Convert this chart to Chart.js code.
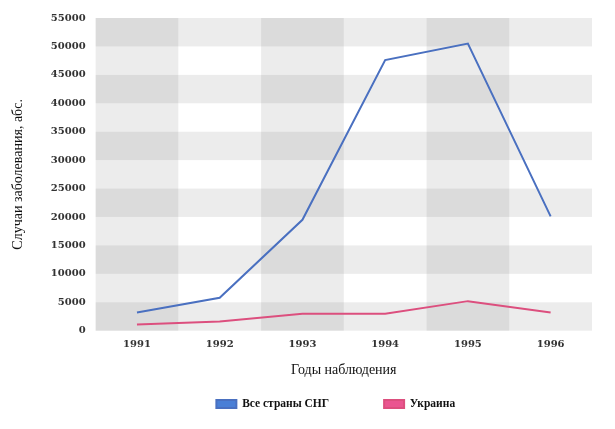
<!DOCTYPE html>
<html>
<head>
<meta charset="utf-8">
<script src="https://cdn.jsdelivr.net/npm/chart.js@4/dist/chart.umd.min.js"></script>
<style>
html,body{margin:0;padding:0;background:#fff;}
#wrap{width:615px;height:429px;}
</style>
</head>
<body>
<div id="wrap"><canvas id="c" width="615" height="429"></canvas></div>
<script>
const years = ["1991","1992","1993","1994","1995","1996"];
const allCIS = [3200, 5800, 19500, 47600, 50500, 20100];
const ukraine = [1100, 1600, 3000, 3000, 5200, 3200];
const seriesNames = ["Все страны СНГ", "Украина"];
const yTitle = "Случаи заболевания, абс.";
const xTitle = "Годы наблюдения";

const bands = {
  id: 'bands',
  beforeDatasetsDraw(chart) {
    const {ctx, chartArea: a, scales: {x, y}} = chart;
    ctx.save();
    ctx.fillStyle = 'rgba(0,0,0,0.075)';
    for (let v = 0; v < 55000; v += 10000) {
      const y1 = y.getPixelForValue(v), y2 = y.getPixelForValue(v + 5000);
      ctx.fillRect(a.left, y2, a.right - a.left, y1 - y2);
    }
    const w = (a.right - a.left) / years.length;
    for (let i = 0; i < years.length; i += 2) {
      const cx = x.getPixelForValue(i);
      ctx.fillRect(cx - w / 2, a.top, w, a.bottom - a.top);
    }
    ctx.restore();
  }
};

const legendShift = {
  id: 'legendShift',
  afterLayout(chart) {
    const l = chart.legend;
    if (l) { l.left += 35; l.right += 35; l.top -= 36.75; }
  }
};

new Chart(document.getElementById('c'), {
  type: 'line',
  data: {
    labels: years,
    datasets: [
      {label: seriesNames[0], data: allCIS, borderColor: '#4a70c0', backgroundColor: '#4a7fd6', borderWidth: 2, pointRadius: 0, tension: 0},
      {label: seriesNames[1], data: ukraine, borderColor: '#dc4f7e', backgroundColor: '#ea5590', borderWidth: 2, pointRadius: 0, tension: 0}
    ]
  },
  options: {
    responsive: false,
    animation: false,
    layout: {padding: {left: 9.5, right: 23, top: 18, bottom: 9}},
    scales: {
      x: {
        offset: true,
        grid: {display: false, drawTicks: false},
        border: {display: false},
        ticks: {color: '#333', font: {family: 'DejaVu Serif', size: 10, weight: 'bold'}, padding: 8},
        title: {display: true, text: xTitle, color: '#111', font: {family: 'Liberation Serif', size: 14}, padding: {top: 2.9, bottom: 1.6}}
      },
      y: {
        min: 0, max: 55000,
        grid: {display: false, drawTicks: false},
        border: {display: false},
        ticks: {stepSize: 5000, color: '#333', font: {family: 'DejaVu Serif', size: 10, weight: 'bold'}, padding: 10,
          callback: (v) => String(v)},
        title: {display: true, text: yTitle, color: '#111', font: {family: 'Liberation Serif', size: 14}, padding: {top: 0, bottom: 14.5}}
      }
    },
    plugins: {
      legend: {
        position: 'bottom',
        maxHeight: 40,
        labels: {boxWidth: 20, boxHeight: 8, padding: 55, color: '#111', font: {family: 'Liberation Serif', size: 11.5, weight: 'bold'}}
      },
      tooltip: {enabled: false}
    }
  },
  plugins: [bands, legendShift]
});
</script>
</body>
</html>
